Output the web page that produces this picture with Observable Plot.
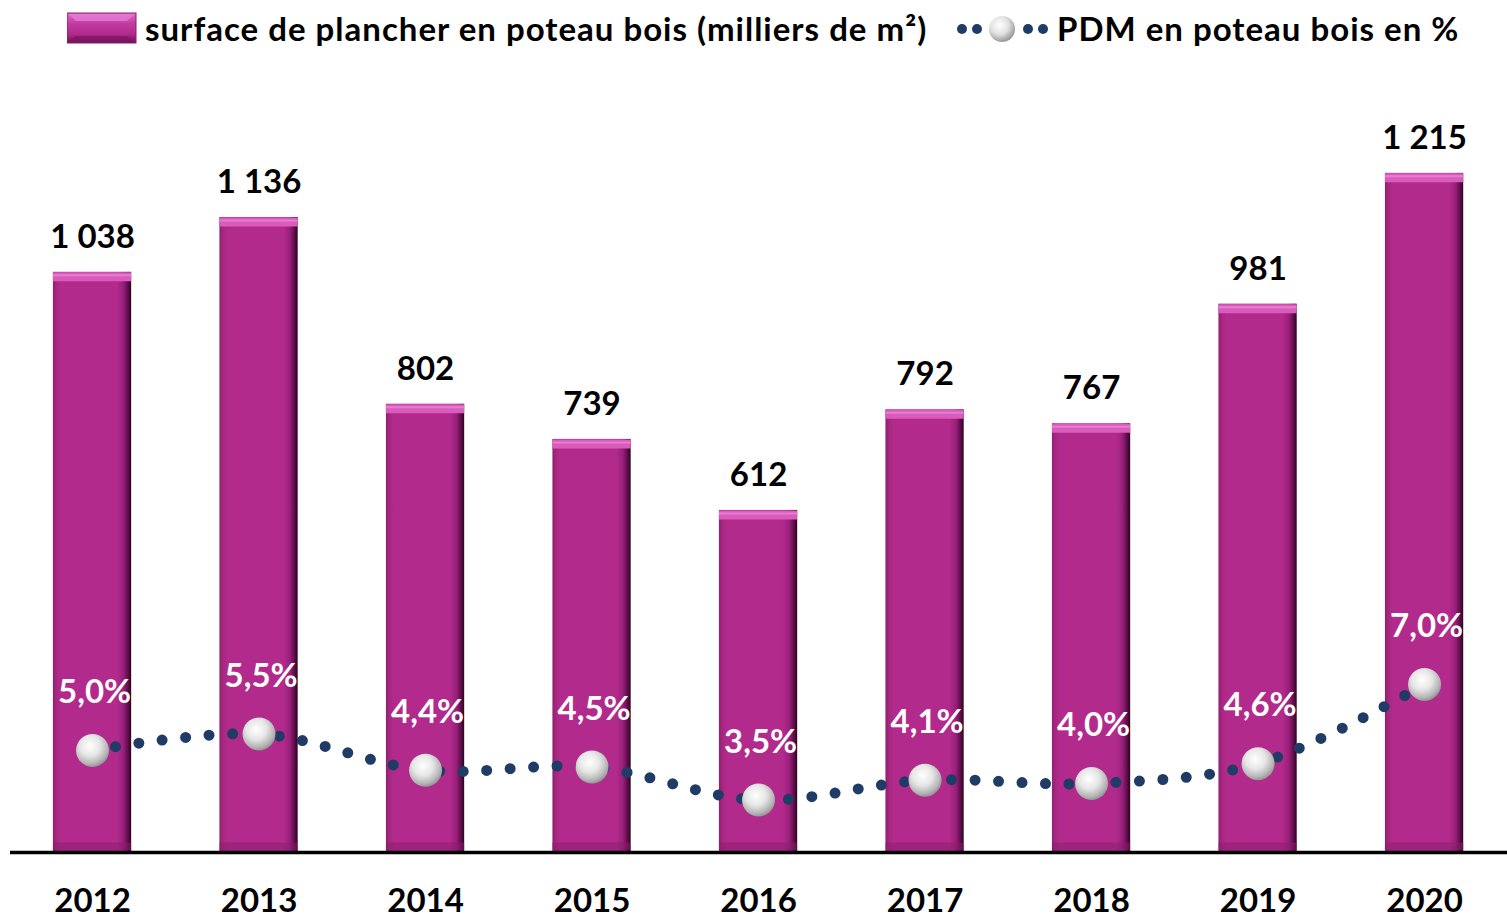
<!DOCTYPE html>
<html><head><meta charset="utf-8">
<script src="https://cdn.jsdelivr.net/npm/d3@7"></script>
<script src="https://cdn.jsdelivr.net/npm/@observablehq/plot@0.6"></script>
<style>
body{margin:0;background:#fff;font-family:Lato,"Open Sans",sans-serif;overflow:hidden;}
#legend{position:relative;height:60px;width:1507px;}
.lg-item{position:absolute;top:0;height:56px;display:flex;align-items:center;font-weight:700;font-size:33px;letter-spacing:1px;color:#000;white-space:nowrap;}
#chart svg{display:block;}
</style></head><body>
<div id="legend">
  <div class="lg-item" style="left:67px;">
    <svg width="70" height="32" style="margin-right:8px">
      <defs>
        <linearGradient id="lgSw" x1="0" y1="0" x2="0" y2="1">
          <stop offset="0" stop-color="#e06cc6"/><stop offset="0.35" stop-color="#c23ba0"/><stop offset="0.7" stop-color="#b12a8c"/><stop offset="1" stop-color="#6d1054"/>
        </linearGradient>
      </defs>
      <rect x="0" y="1" width="69" height="30" fill="url(#lgSw)" stroke="#8a1c6c" stroke-width="1"/>
      <polygon points="1,2 68,2 60,9 9,9" fill="#e57bd0" opacity="0.8"/>
      <polygon points="1,30 68,30 60,24 9,24" fill="#7a155f" opacity="0.6"/>
    </svg>
    <span>surface de plancher en poteau bois (milliers de m²)</span>
  </div>
  <div class="lg-item" style="left:955px;">
    <svg width="96" height="32" style="margin-right:6px">
      <defs>
        <radialGradient id="lgSph" cx="0.4" cy="0.35" r="0.7">
          <stop offset="0" stop-color="#ffffff"/><stop offset="0.5" stop-color="#e2e2e2"/><stop offset="1" stop-color="#8c8c8c"/>
        </radialGradient>
      </defs>
      <circle cx="7" cy="17" r="5" fill="#1f3b66"/>
      <circle cx="22" cy="17" r="5" fill="#1f3b66"/>
      <circle cx="73" cy="17" r="5" fill="#1f3b66"/>
      <circle cx="88" cy="17" r="5" fill="#1f3b66"/>
      <circle cx="47" cy="17" r="13" fill="url(#lgSph)"/>
    </svg>
    <span>PDM en poteau bois en %</span>
  </div>
</div>
<div id="chart"></div>
<script>
const years = ["2012","2013","2014","2015","2016","2017","2018","2019","2020"];
const surface = [1038, 1136, 802, 739, 612, 792, 767, 981, 1215];
const pdm = [5.0, 5.5, 4.4, 4.5, 3.5, 4.1, 4.0, 4.6, 7.0];

const fr = d3.formatLocale({decimal: ",", thousands: "\u00a0", grouping: [3], currency: ["", " €"]});
const fmtSurface = fr.format(",d");
const fmtPct = v => fr.format(".1f")(v) + "%";

// secondary (PDM %) axis mapped onto the primary scale
const pctToY = v => (v - 1.909) * 59.06;

const data = years.map((y, i) => ({year: y, surface: surface[i], pdm: pdm[i], pdmY: pctToY(pdm[i])}));

const chart = Plot.plot({
  width: 1507,
  height: 858,
  marginTop: 10,
  marginBottom: 66,
  marginLeft: 10,
  marginRight: 0,
  style: {fontFamily: "Lato, 'Open Sans', sans-serif", background: "#fff"},
  x: {domain: years, range: [52.9, 1463.2], paddingInner: 0.53, paddingOuter: 0, round: false, axis: null},
  y: {domain: [0, 1399], axis: null},
  marks: [
    Plot.barY(data, {x: "year", y: "surface", fill: "url(#barGrad)"}),
    Plot.tickY(data, {x: "year", y: "surface", stroke: "#d95cbd", strokeWidth: 9, dy: 4.5}),
    Plot.tickY(data, {x: "year", y: "surface", stroke: "#ea86d4", strokeWidth: 2, dy: 3, strokeOpacity: 0.8}),
    Plot.tickY(data, {x: "year", y: 0, stroke: "#8a1b6c", strokeWidth: 8, dy: -6, strokeOpacity: 0.5}),
    Plot.ruleY([0], {stroke: "#000", strokeWidth: 3.5}),
    Plot.text(data, {x: "year", y: "surface", text: d => fmtSurface(d.surface), dy: -35, fontSize: 33, fontWeight: 700, fill: "#000"}),
    Plot.line(data, {x: "year", y: "pdmY", curve: "catmull-rom", stroke: "#1f3b66", strokeWidth: 11, strokeLinecap: "round", strokeDasharray: "0 23.5"}),
    Plot.dot(data, {x: "year", y: "pdmY", r: 16.5, fill: "url(#sphere)", stroke: "none"}),
    Plot.text(data, {x: "year", y: "pdmY", text: d => fmtPct(d.pdm), dy: -58, fontSize: 33, fontWeight: 700, fill: "#fff", dx: 2}),
    Plot.text(years, {x: d => d, y: 0, text: d => d, dy: 49, fontSize: 33, fontWeight: 700, fill: "#000"})
  ]
});

const defs = d3.select(chart).insert("defs", ":first-child");
const bg = defs.append("linearGradient").attr("id", "barGrad").attr("x1", 0).attr("y1", 0).attr("x2", 1).attr("y2", 0);
[[0, "#8f1f72"], [0.05, "#a8287f"], [0.1, "#b22a8c"], [0.82, "#b22a8c"], [0.9, "#98207a"], [0.96, "#5e0d49"], [1, "#2a0421"]]
  .forEach(([o, c]) => bg.append("stop").attr("offset", o).attr("stop-color", c));
const sg = defs.append("radialGradient").attr("id", "sphere").attr("cx", 0.42).attr("cy", 0.36).attr("r", 0.68);
[[0, "#ffffff"], [0.45, "#e6e6e6"], [0.8, "#b4b4b4"], [1, "#8a8a8a"]]
  .forEach(([o, c]) => sg.append("stop").attr("offset", o).attr("stop-color", c));

document.getElementById("chart").appendChild(chart);
</script>
</body></html>
